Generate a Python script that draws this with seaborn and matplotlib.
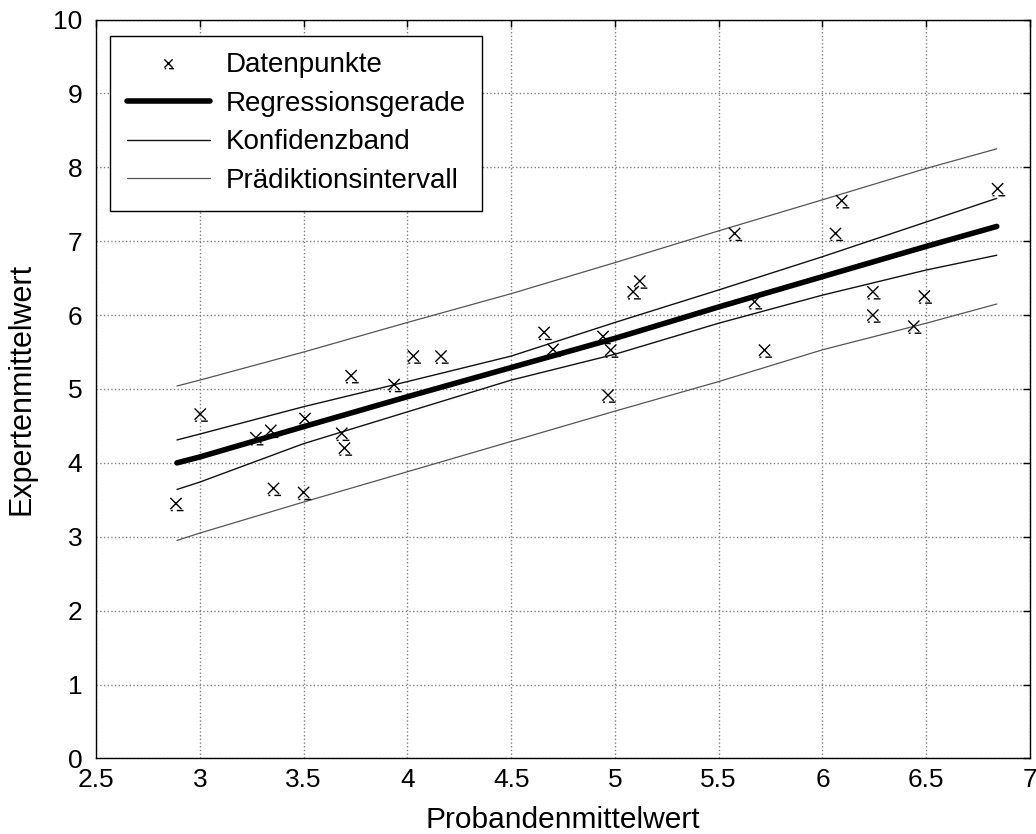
import numpy as np
import pandas as pd
import matplotlib
matplotlib.use("Agg")
import matplotlib.pyplot as plt
from matplotlib.path import Path
from matplotlib.lines import Line2D
import seaborn as sns

# ---- data ----
proband = [2.885, 3.002, 3.27, 3.342, 3.355, 3.50, 3.507, 3.684, 3.697, 3.729,
           3.936, 4.029, 4.162, 4.659, 4.702, 4.943, 4.98, 4.967, 5.088, 5.12,
           5.577, 6.093, 6.063, 5.673, 5.721, 6.243, 6.243, 6.491, 6.44, 6.844]
experte = [3.45, 4.66, 4.34, 4.44, 3.655, 3.60, 4.60, 4.40, 4.20, 5.18,
           5.06, 5.445, 5.445, 5.766, 5.536, 5.71, 5.526, 4.917, 6.315, 6.46,
           7.105, 7.547, 7.105, 6.18, 5.526, 6.315, 6.0, 6.257, 5.85, 7.71]

line_x = [2.89, 3.0, 3.5, 4.0, 4.5, 5.0, 5.5, 6.0, 6.5, 6.84]
regression = [4.00, 4.08, 4.49, 4.895, 5.29, 5.685, 6.11, 6.52, 6.93, 7.20]
konf_upper = [4.31, 4.39, 4.76, 5.10, 5.445, 5.90, 6.34, 6.79, 7.26, 7.58]
konf_lower = [3.64, 3.74, 4.26, 4.69, 5.12, 5.47, 5.89, 6.27, 6.61, 6.81]
pred_upper = [5.04, 5.12, 5.50, 5.90, 6.29, 6.71, 7.14, 7.56, 7.985, 8.25]
pred_lower = [2.95, 3.05, 3.47, 3.88, 4.29, 4.70, 5.10, 5.53, 5.89, 6.15]

labels = ["Datenpunkte", "Regressionsgerade", "Konfidenzband", "Prädiktionsintervall"]

# ---- style ----
sns.set_style("white")
plt.rcParams["font.family"] = ["Liberation Sans", "DejaVu Sans"]
plt.rcParams["text.color"] = "black"
plt.rcParams["axes.labelcolor"] = "black"
plt.rcParams["xtick.color"] = "black"
plt.rcParams["ytick.color"] = "black"

fig = plt.figure(figsize=(10.36, 8.34), dpi=100)
ax = fig.add_axes([0.0927, 0.0906, 0.9015, 0.886])

# custom marker: x with a little dash underneath
verts = [(-1, -1), (1, 1), (-1, 1), (1, -1),
         (-0.9, -1.25), (-0.55, -1.25), (0.15, -1.25), (1.35, -1.25)]
codes = [Path.MOVETO, Path.LINETO, Path.MOVETO, Path.LINETO,
         Path.MOVETO, Path.LINETO, Path.MOVETO, Path.LINETO]
xmark = Path(verts, codes)

pts = pd.DataFrame({"x": proband, "y": experte})
lines = pd.DataFrame({"x": line_x, "reg": regression, "ku": konf_upper,
                      "kl": konf_lower, "pu": pred_upper, "pl": pred_lower})

sns.lineplot(data=lines, x="x", y="pu", ax=ax, color="#555555", lw=0.9, sort=False)
sns.lineplot(data=lines, x="x", y="pl", ax=ax, color="#555555", lw=0.9, sort=False)
sns.lineplot(data=lines, x="x", y="ku", ax=ax, color="#111111", lw=1.0, sort=False)
sns.lineplot(data=lines, x="x", y="kl", ax=ax, color="#111111", lw=1.0, sort=False)
sns.lineplot(data=lines, x="x", y="reg", ax=ax, color="black", lw=4.0, sort=False)
sns.scatterplot(data=pts, x="x", y="y", ax=ax, marker=xmark, s=120,
                facecolor="none", edgecolor="black", linewidth=1.0, zorder=5)

ax.set_xlim(2.5, 7)
ax.set_ylim(0, 10)
ax.set_xticks(np.arange(2.5, 7.01, 0.5))
ax.set_xticklabels(["2.5", "3", "3.5", "4", "4.5", "5", "5.5", "6", "6.5", "7"])
ax.set_yticks(range(0, 11))
ax.grid(True, linestyle=":", color="#808080", linewidth=1.0)
ax.tick_params(direction="in", length=5, width=1, labelsize=19,
               top=True, right=True, color="black", labelcolor="black")
ax.tick_params(axis="x", pad=7)
ax.tick_params(axis="y", pad=10)
for s in ax.spines.values():
    s.set_color("black")
    s.set_linewidth(1.0)
ax.set_xlabel("Probandenmittelwert", fontsize=21.5, labelpad=10, color="black")
ax.set_ylabel("Expertenmittelwert", fontsize=22, labelpad=12, color="black")

handles = [
    Line2D([], [], linestyle="none", marker=xmark, markersize=8, markerfacecolor="none",
           markeredgecolor="black", markeredgewidth=1.0),
    Line2D([], [], color="black", lw=4.0),
    Line2D([], [], color="#111111", lw=1.0),
    Line2D([], [], color="#555555", lw=0.9),
]
leg = ax.legend(handles, labels, loc="upper left", bbox_to_anchor=(0.015, 0.978),
                fontsize=20, frameon=True, fancybox=False, framealpha=1,
                edgecolor="black", handlelength=3.0, handletextpad=0.55,
                borderpad=0.6, labelspacing=0.45, borderaxespad=0)
leg.get_frame().set_linewidth(1.0)
for t in leg.get_texts():
    t.set_color("black")

fig.savefig("out.png", dpi=100)
